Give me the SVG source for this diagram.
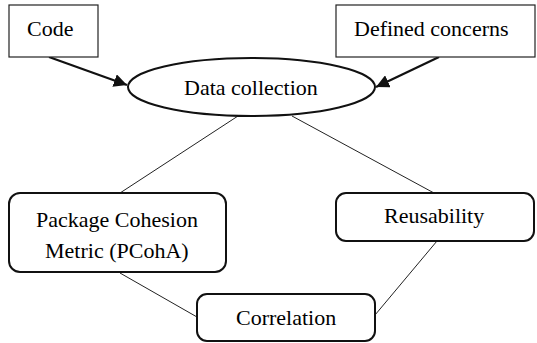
<svg xmlns="http://www.w3.org/2000/svg" width="537" height="343" viewBox="0 0 537 343">
<defs>
<marker id="ah" viewBox="0 0 10 10" refX="10" refY="5" markerWidth="6" markerHeight="6" orient="auto" markerUnits="strokeWidth">
<path d="M0,0 L10,5 L0,10 Z" fill="#111"/>
</marker>
</defs>
<g id="connectors" fill="none">
<line x1="49" y1="57" x2="127" y2="85" stroke="#111" stroke-width="2.2" marker-end="url(#ah)"/>
<line x1="439" y1="57" x2="376" y2="87" stroke="#111" stroke-width="2.2" marker-end="url(#ah)"/>
<line x1="238" y1="116" x2="120" y2="193" stroke="#222" stroke-width="1"/>
<line x1="292" y1="116" x2="434" y2="193" stroke="#222" stroke-width="1"/>
<line x1="120" y1="273" x2="197" y2="317" stroke="#222" stroke-width="1"/>
<line x1="437" y1="241" x2="375" y2="315" stroke="#222" stroke-width="1"/>
</g>
<g id="code">
<rect x="9" y="5" width="89" height="52" fill="#fff" stroke="#222" stroke-width="1.2"/>
<text x="27" y="36" font-family="Times New Roman" font-size="22">Code</text>
</g>
<g id="defined-concerns">
<rect x="336" y="5" width="199" height="52" fill="#fff" stroke="#222" stroke-width="1.2"/>
<text x="354" y="36" font-family="Times New Roman" font-size="22">Defined concerns</text>
</g>
<g id="data-collection">
<ellipse cx="251.5" cy="87" rx="123.5" ry="29" fill="#fff" stroke="#111" stroke-width="2"/>
<text x="184" y="95" font-family="Times New Roman" font-size="22">Data collection</text>
</g>
<g id="pcoha">
<rect x="9" y="193" width="217" height="79" rx="11" fill="#fff" stroke="#111" stroke-width="2"/>
<text x="36" y="227" font-family="Times New Roman" font-size="22">Package Cohesion</text>
<text x="45" y="258" font-family="Times New Roman" font-size="22">Metric (PCohA)</text>
</g>
<g id="reusability">
<rect x="336" y="193" width="198" height="48" rx="10" fill="#fff" stroke="#111" stroke-width="2"/>
<text x="384" y="223" font-family="Times New Roman" font-size="22">Reusability</text>
</g>
<g id="correlation">
<rect x="197" y="294" width="178" height="47" rx="10" fill="#fff" stroke="#111" stroke-width="2"/>
<text x="236" y="325" font-family="Times New Roman" font-size="22">Correlation</text>
</g>
</svg>
